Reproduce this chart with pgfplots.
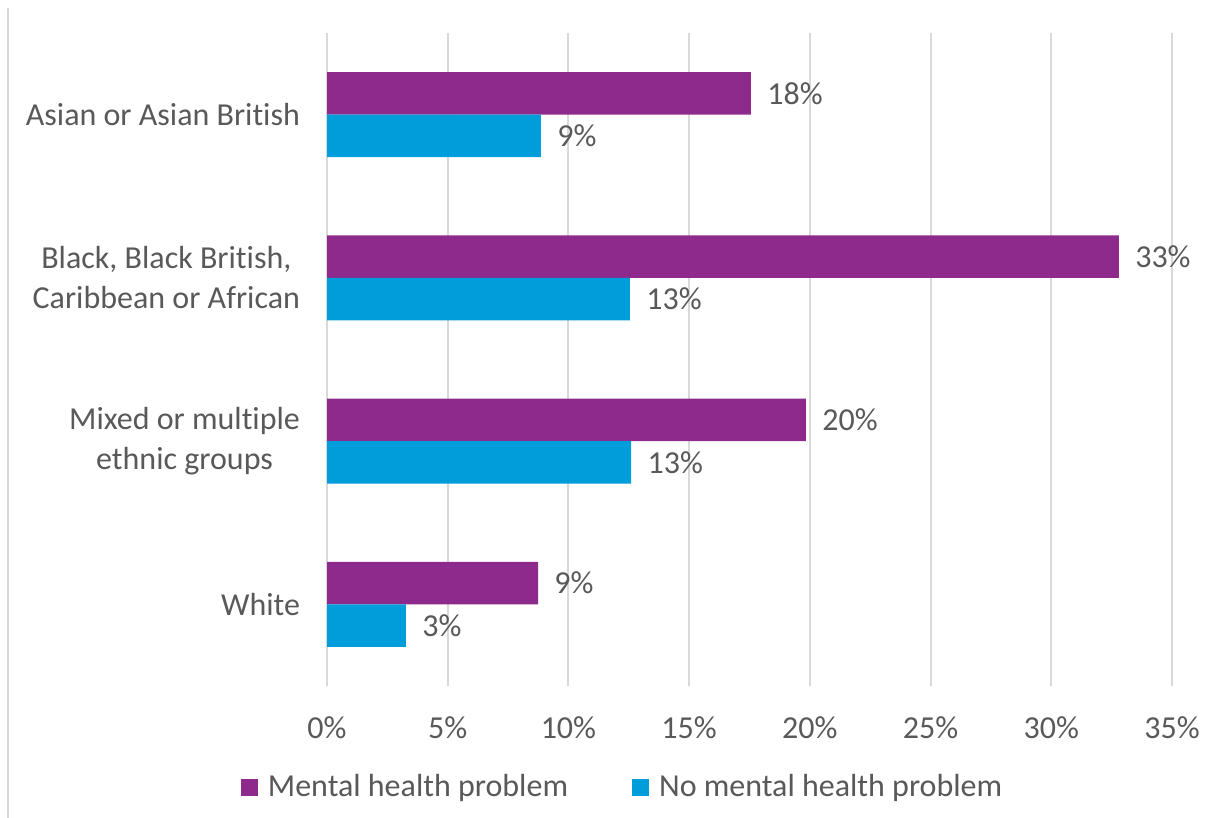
\documentclass[border=0pt]{standalone}
\usepackage{fontspec}
\setmainfont{Carlito}[Ligatures=NoCommon]
\usepackage{pgfplots}
\pgfplotsset{compat=1.18}
\definecolor{mhp}{HTML}{8E2A8C}
\definecolor{nmhp}{HTML}{009DDB}
\definecolor{txt}{HTML}{595959}
\definecolor{grd}{HTML}{D9D9D9}
\newcommand{\cf}{\fontsize{16bp}{20bp}\selectfont}
\begin{document}
\begin{tikzpicture}
\useasboundingbox (0,0) rectangle (605bp,409bp);
\draw[grd, line width=1bp] (4bp,0) -- (4bp,405bp);
\begin{axis}[
  at={(163.5bp,66bp)}, anchor=south west,
  scale only axis, width=422.5bp, height=326.5bp,
  xbar, bar width=0.26,
  xmin=0, xmax=35, ymin=-0.5, ymax=3.5,
  xtick={0,5,...,35},
  xticklabels={0\%,5\%,10\%,15\%,20\%,25\%,30\%,35\%},
  ytick={0,1,2,3},
  yticklabels={White,{Mixed or multiple\\ethnic groups},{Black, Black British,\\Caribbean or African},Asian or Asian British},
  yticklabel style={align=center, font=\cf, text=txt, xshift=-10bp},
  xticklabel style={font=\cf, text=txt, yshift=-12bp},
  major tick length=0pt,
  axis line style={draw=none},
  xmajorgrids, major grid style={draw=grd, line width=1bp},
  point meta=explicit symbolic,
  nodes near coords={\pgfplotspointmeta\%},
  every node near coord/.append style={font=\cf, text=txt, anchor=west, inner sep=0pt, xshift=8bp},
  legend columns=2,
  legend style={draw=none, at={(0.351,-0.155)}, anchor=center, font=\cf, text=txt,
    /tikz/every even column/.append style={column sep=30bp}},
  legend image code/.code={\fill[#1,draw=none] (0bp,-4.25bp) rectangle (8.5bp,4.25bp); \path (11.5bp,0bp);},
]
\addplot[fill=mhp, draw=none, bar shift=0.13] table[meta=l] {
x y l
17.56 3 18
32.8 2 33
19.84 1 20
8.74 0 9
};
\addplot[fill=nmhp, draw=none, bar shift=-0.13] table[meta=l] {
x y l
8.86 3 9
12.55 2 13
12.6 1 13
3.27 0 3
};
\legend{Mental health problem, No mental health problem}
\end{axis}
\end{tikzpicture}
\end{document}
